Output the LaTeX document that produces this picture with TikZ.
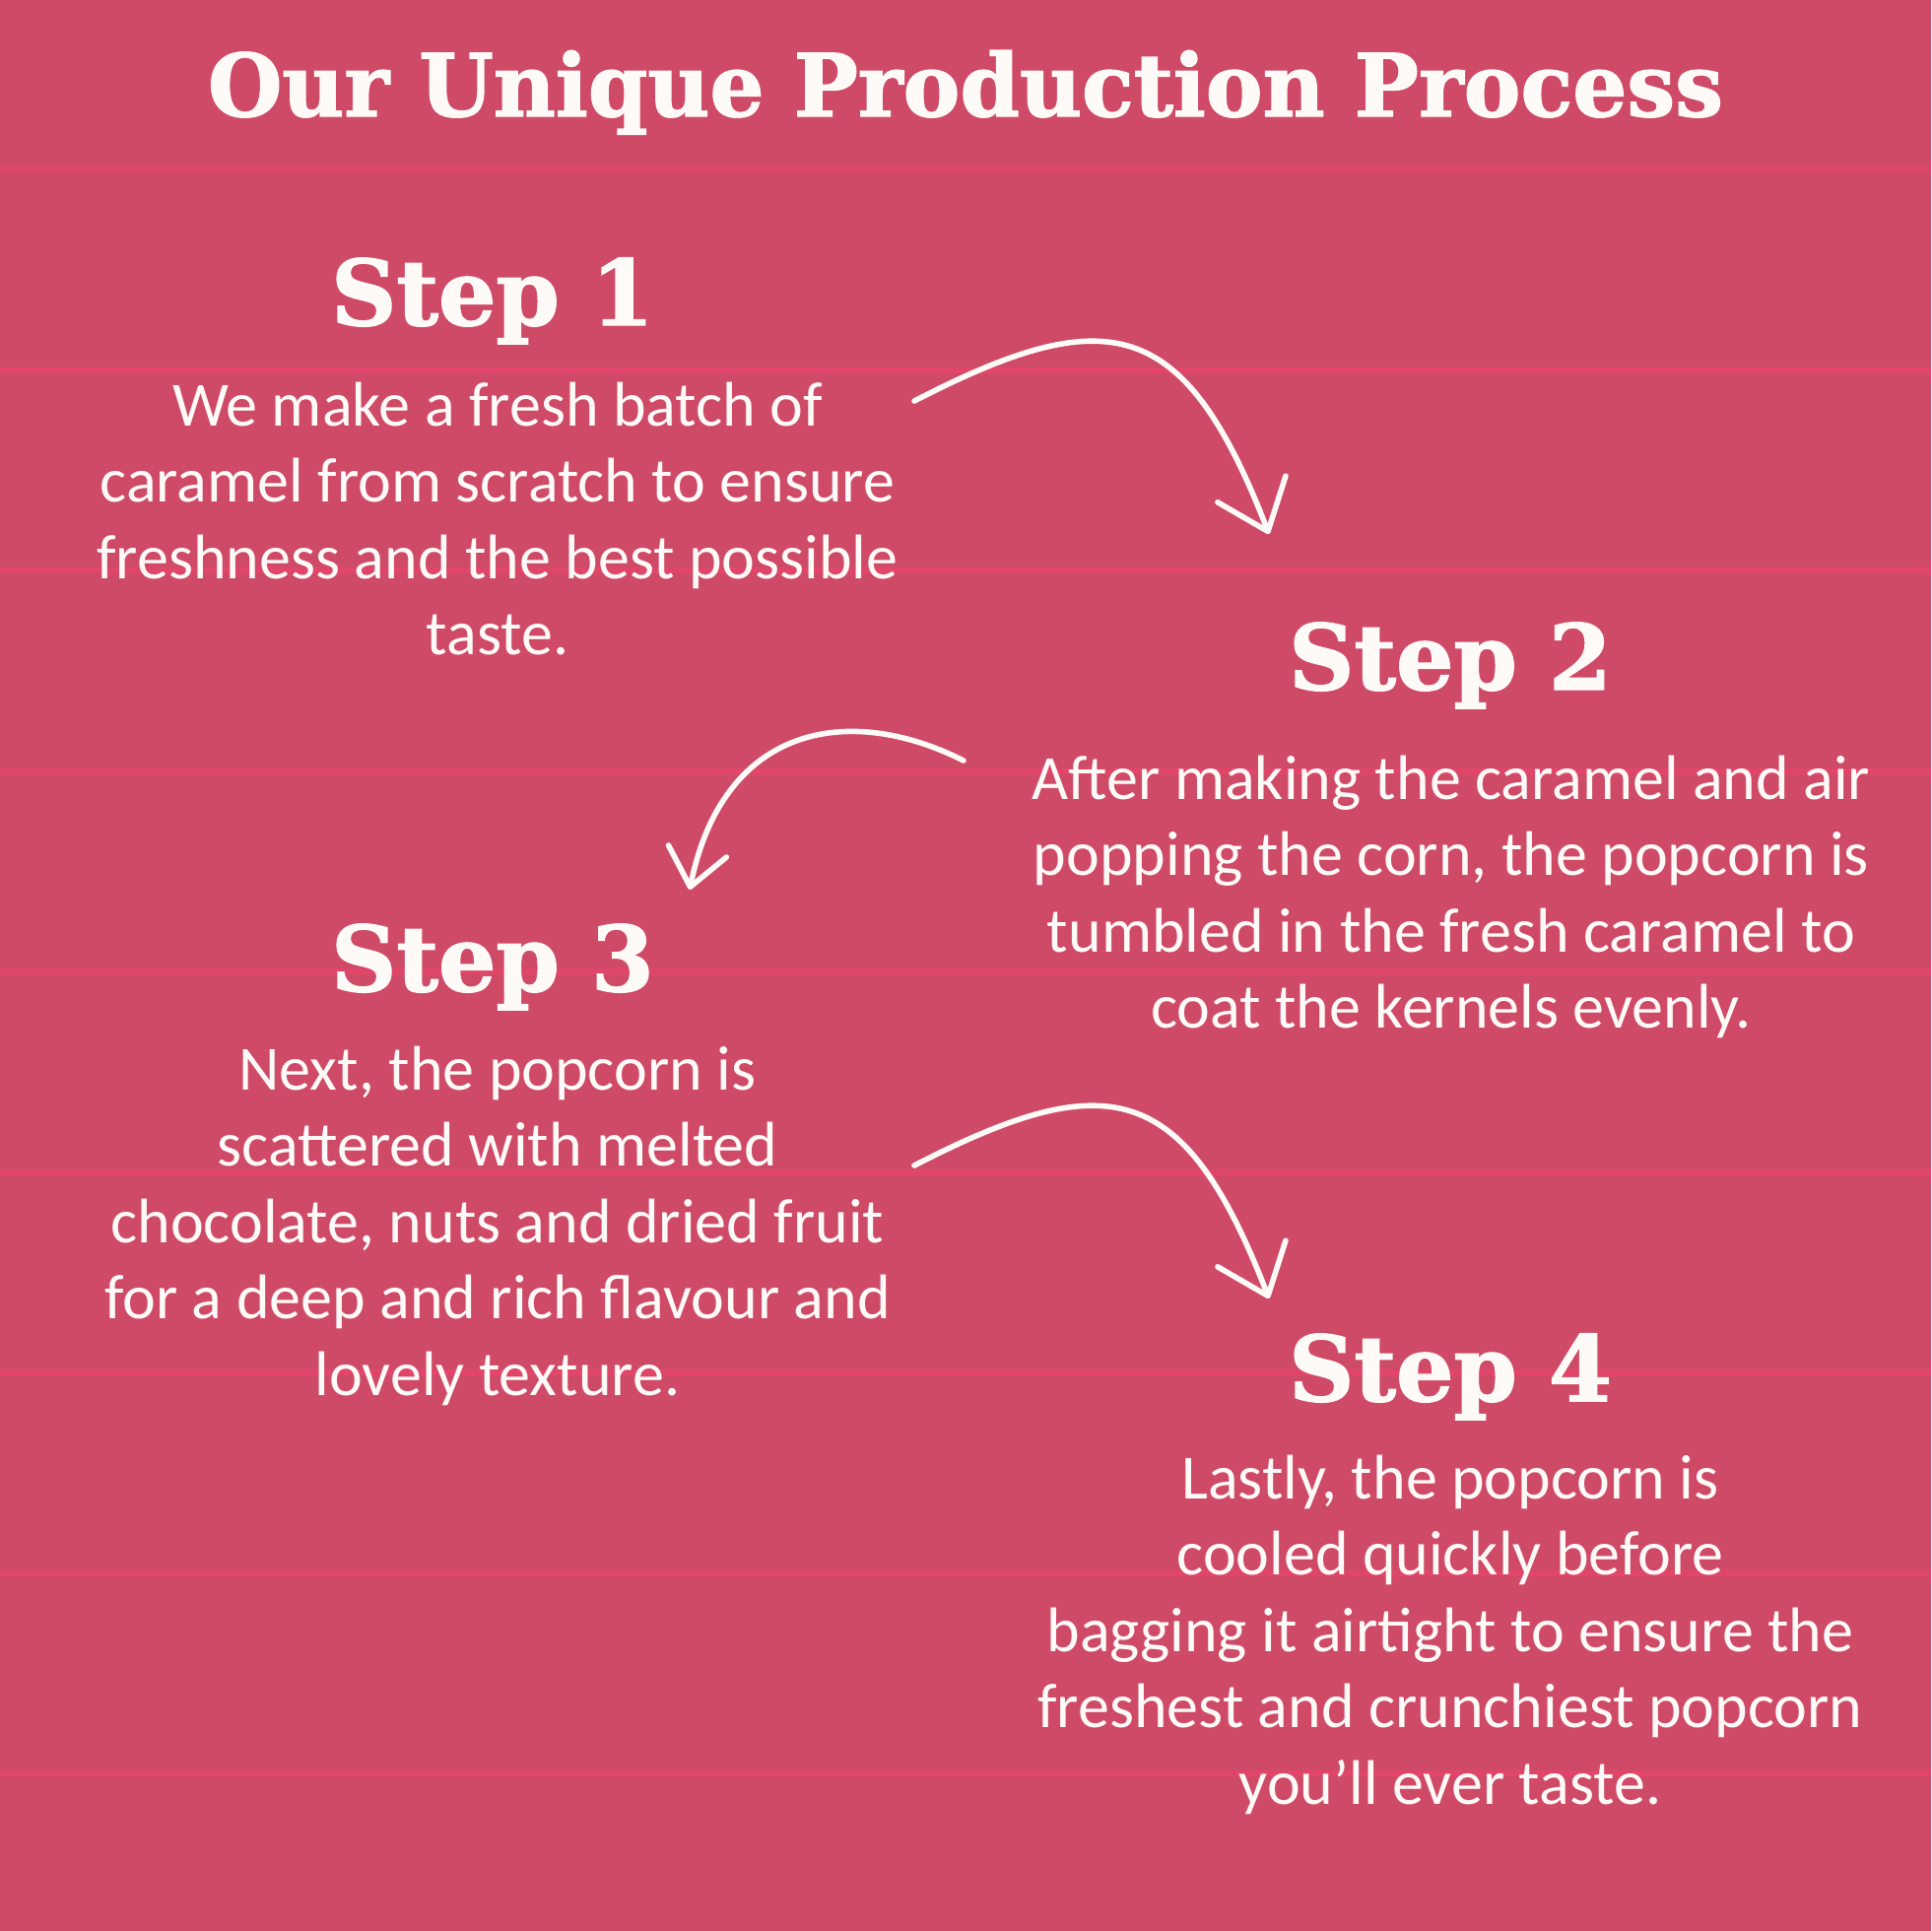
\documentclass[tikz,border=0pt]{standalone}
\usepackage{fontspec}
\setmainfont{Carlito}
\newfontfamily\slabfont{DejaVu Serif}[BoldFeatures={FakeBold=1.6}]
\usetikzlibrary{arrows.meta}
\definecolor{bgpink}{RGB}{207,74,102}
\definecolor{stripepink}{RGB}{225,70,106}
\definecolor{ink}{RGB}{253,250,248}
\begin{document}
\begin{tikzpicture}[x=0.5pt,y=-0.5pt,
  titletext/.style={font=\slabfont\bfseries\fontsize{44}{50}\selectfont, text=ink, inner sep=0pt, anchor=base},
  headtext/.style={font=\slabfont\bfseries\fontsize{46}{52}\selectfont, text=ink, inner sep=0pt, anchor=base},
  bodytext/.style={font=\fontsize{32}{38.75}\selectfont, text=ink, inner sep=0pt, align=center, anchor=base},
  arrowline/.style={draw=ink, line width=2.8pt, line cap=round},
  bigtip/.style={-{Straight Barb[length=23pt,width=37pt,round]}},
  smalltip/.style={-{Straight Barb[length=18.5pt,width=30pt,round]}}]
\fill[bgpink] (0,0) rectangle (1960,1960);
\useasboundingbox (0,0) rectangle (1960,1960);
\foreach \k in {0,...,8}
  \fill[stripepink] (0,{169+203.5*\k}) rectangle (1960,{175+203.5*\k});

\node[titletext] (title) at (980,118) {\scalebox{0.985}[1]{Our Unique Production Process}};

\node[headtext] (h1) at (500,330) {Step 1};
% body nodes are anchored at the baseline of their last line
\node[bodytext] (b1) at (505,664.5) {We make a fresh batch of\\caramel from scratch to ensure\\freshness and the best possible\\taste.};

\node[headtext] (h2) at (1472,700) {Step 2};
\node[bodytext] (b2) at (1473,1043.5) {After making the caramel and air\\popping the corn, the popcorn is\\tumbled in the fresh caramel to\\coat the kernels evenly.};

\node[headtext] (h3) at (500,1006) {Step 3};
\node[bodytext] (b3) at (505,1416) {Next, the popcorn is\\scattered with melted\\chocolate, nuts and dried fruit\\for a deep and rich flavour and\\lovely texture.};

\node[headtext] (h4) at (1472,1422) {Step 4};
\node[bodytext] (b4) at (1472,1831) {Lastly, the popcorn is\\cooled quickly before\\bagging it airtight to ensure the\\freshest and crunchiest popcorn\\you’ll ever taste.};

\coordinate (a1s) at (928,407);
\coordinate (a1e) at (1288,542);
\coordinate (a2s) at (978,772);
\coordinate (a2e) at (700,903);
\coordinate (a3s) at (928,1183);
\coordinate (a3e) at (1288,1318);

\draw[arrowline, bigtip] (a1s) .. controls (1124,306) and (1202,319) .. (a1e);
\draw[arrowline, smalltip] (a2s) .. controls (861,713) and (734,736) .. (a2e);
\draw[arrowline, bigtip] (a3s) .. controls (1124,1082) and (1202,1095) .. (a3e);
\end{tikzpicture}
\end{document}
